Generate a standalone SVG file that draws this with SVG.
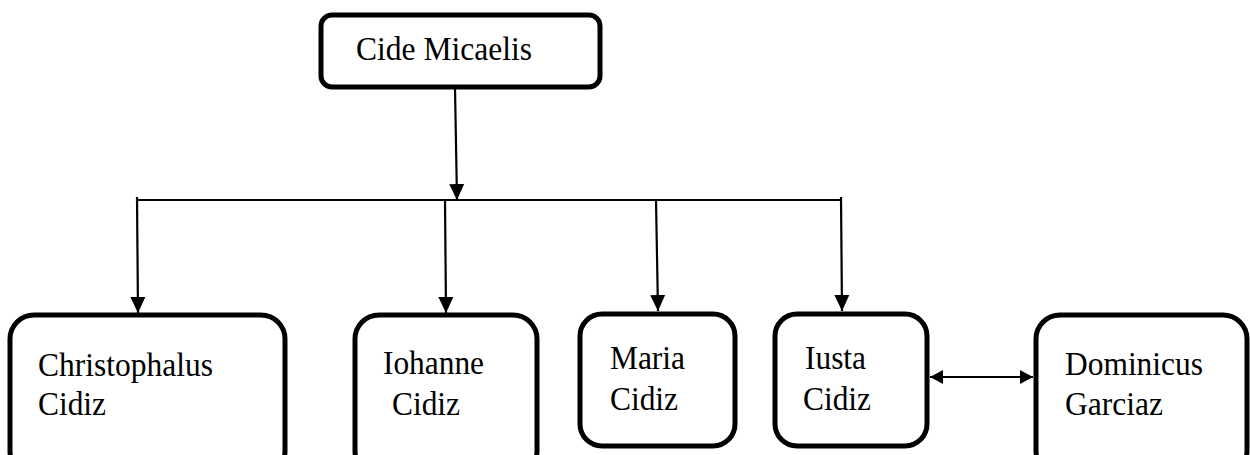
<svg xmlns="http://www.w3.org/2000/svg" width="1250" height="455" viewBox="0 0 1250 455">
<defs>
<marker id="ah" markerUnits="userSpaceOnUse" markerWidth="16" markerHeight="16" viewBox="0 0 16 16" refX="16" refY="8" orient="auto-start-reverse">
<path d="M0,0.5 L16,8 L0,15.5 Z" fill="#000"/>
</marker>
<marker id="ah2" markerUnits="userSpaceOnUse" markerWidth="13" markerHeight="16" viewBox="0 0 13 16" refX="13" refY="8" orient="auto-start-reverse">
<path d="M0,1 L13,8 L0,15 Z" fill="#000"/>
</marker>
<style>
.box{fill:#fff;stroke:#000;stroke-width:5}
.lbl{font-family:"Liberation Serif","Times New Roman",serif;font-size:33px;fill:#000}
.con{stroke:#000;stroke-width:2.2;fill:none}
</style>
</defs>
<rect width="1250" height="455" fill="#fff"/>
<g id="connectors">
<line class="con" x1="455" y1="88" x2="457" y2="200" marker-end="url(#ah)"/>
<line class="con" x1="136" y1="200" x2="842" y2="200"/>
<line class="con" x1="137" y1="197" x2="138" y2="313" marker-end="url(#ah)"/>
<line class="con" x1="445" y1="200" x2="446" y2="313" marker-end="url(#ah)"/>
<line class="con" x1="656" y1="200" x2="658" y2="311" marker-end="url(#ah)"/>
<line class="con" x1="841" y1="197" x2="842" y2="311" marker-end="url(#ah)"/>
<line class="con" x1="930" y1="377" x2="1033" y2="377" marker-start="url(#ah2)" marker-end="url(#ah2)"/>
</g>
<g id="node-cide">
<rect class="box" x="321" y="15" width="279" height="72" rx="11" stroke-width="4.5"/>
<text class="lbl" x="356" y="60" textLength="176" lengthAdjust="spacingAndGlyphs">Cide Micaelis</text>
</g>
<g id="node-christophalus">
<rect class="box" x="10" y="315" width="275" height="160" rx="24"/>
<text class="lbl" x="38" y="376" textLength="175" lengthAdjust="spacingAndGlyphs">Christophalus</text>
<text class="lbl" x="38" y="415" textLength="68" lengthAdjust="spacingAndGlyphs">Cidiz</text>
</g>
<g id="node-iohanne">
<rect class="box" x="355" y="315" width="182" height="160" rx="24"/>
<text class="lbl" x="383" y="374" textLength="101" lengthAdjust="spacingAndGlyphs">Iohanne</text>
<text class="lbl" x="392" y="415" textLength="68" lengthAdjust="spacingAndGlyphs">Cidiz</text>
</g>
<g id="node-maria">
<rect class="box" x="580" y="314" width="155" height="132" rx="22"/>
<text class="lbl" x="610" y="369" textLength="75" lengthAdjust="spacingAndGlyphs">Maria</text>
<text class="lbl" x="610" y="410" textLength="68" lengthAdjust="spacingAndGlyphs">Cidiz</text>
</g>
<g id="node-iusta">
<rect class="box" x="775" y="314" width="152" height="132" rx="22"/>
<text class="lbl" x="805" y="369" textLength="61" lengthAdjust="spacingAndGlyphs">Iusta</text>
<text class="lbl" x="803" y="410" textLength="68" lengthAdjust="spacingAndGlyphs">Cidiz</text>
</g>
<g id="node-dominicus">
<rect class="box" x="1036" y="315" width="211" height="160" rx="24"/>
<text class="lbl" x="1065" y="375" textLength="138" lengthAdjust="spacingAndGlyphs">Dominicus</text>
<text class="lbl" x="1065" y="415" textLength="98" lengthAdjust="spacingAndGlyphs">Garciaz</text>
</g>
</svg>
